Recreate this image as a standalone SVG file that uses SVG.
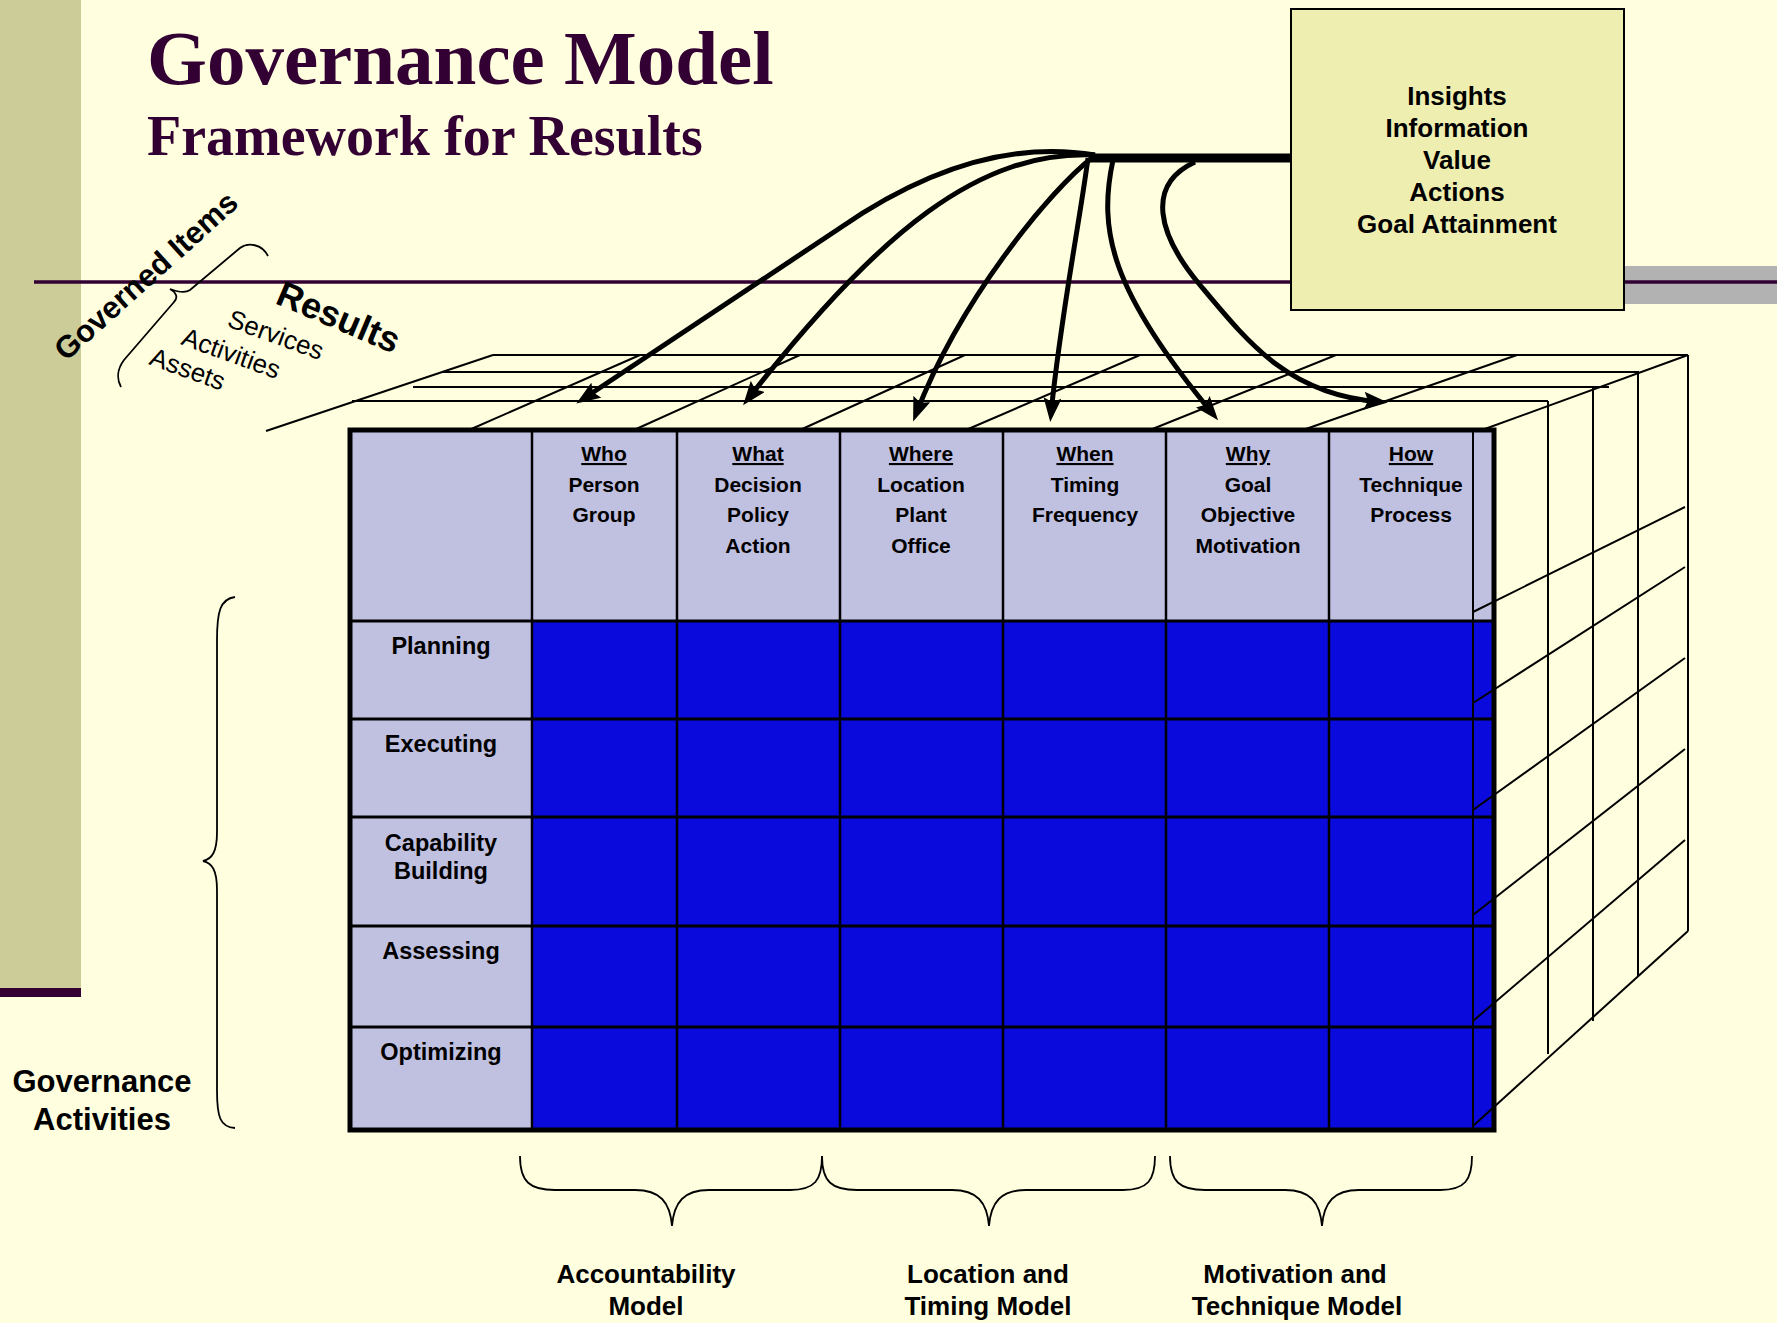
<svg xmlns="http://www.w3.org/2000/svg" width="1777" height="1323" viewBox="0 0 1777 1323">
<defs>
<style>
.title{font-family:"Liberation Serif","Times New Roman",serif;font-weight:bold;fill:#330033}
.b{font-family:"Liberation Sans",Arial,sans-serif;font-weight:bold;fill:#000}
.r{font-family:"Liberation Sans",Arial,sans-serif;fill:#000}
.hd{font-size:21px;text-anchor:middle}
.rl{font-size:23.5px;text-anchor:middle}
.u{text-decoration:underline}
.ln{stroke:#000;stroke-width:2;fill:none}
.grid{stroke:#000;stroke-width:2.5}
.rowl{stroke:#000;stroke-width:3}
.arrow{fill:none;stroke:#000;stroke-width:5;marker-end:url(#ah)}
.brace{fill:none;stroke:#000;stroke-width:1.8}
</style>
<marker id="ah" viewBox="0 0 24 18" refX="16" refY="9" markerWidth="24" markerHeight="18" markerUnits="userSpaceOnUse" orient="auto"><path d="M0,0 L24,9 L0,18 L4,9 z" fill="#000"/></marker>
</defs>

<rect x="0" y="0" width="1777" height="1323" fill="#FFFFE0"/>
<g id="background">
<rect x="0" y="0" width="81" height="988" fill="#CCCC99"/>
<rect x="0" y="988" width="81" height="9" fill="#330033"/>
<rect x="1624" y="266" width="153" height="38" fill="#B2B2B2"/>
<line x1="34" y1="282" x2="1777" y2="282" stroke="#330033" stroke-width="3.5"/>
</g>

<g id="title">
<text class="title" x="147" y="84" font-size="77">Governance Model</text>
<text class="title" x="147" y="155" font-size="56">Framework for Results</text>
</g>

<g id="results-box">
<rect x="1291" y="9" width="333" height="301" fill="#EEEEB0" stroke="#000" stroke-width="2"/>
<text class="b" font-size="26" text-anchor="middle" x="1457" y="105">Insights</text>
<text class="b" font-size="26" text-anchor="middle" x="1457" y="137">Information</text>
<text class="b" font-size="26" text-anchor="middle" x="1457" y="169">Value</text>
<text class="b" font-size="26" text-anchor="middle" x="1457" y="201">Actions</text>
<text class="b" font-size="26" text-anchor="middle" x="1457" y="233">Goal Attainment</text>
</g>

<g id="top-face">
<line class="ln" x1="493" y1="355" x2="1688" y2="355"/>
<line class="ln" x1="442" y1="372" x2="1639" y2="372"/>
<line class="ln" x1="413" y1="387" x2="1609" y2="387"/>
<line class="ln" x1="352" y1="401" x2="1548" y2="401"/>
<line class="ln" x1="266" y1="431" x2="493" y2="355"/>
<line class="ln" x1="469" y1="430" x2="640" y2="355"/>
<line class="ln" x1="634" y1="430" x2="800" y2="355"/>
<line class="ln" x1="800" y1="430" x2="965" y2="355"/>
<line class="ln" x1="966" y1="430" x2="1140" y2="355"/>
<line class="ln" x1="1150" y1="430" x2="1336" y2="355"/>
<line class="ln" x1="1303" y1="430" x2="1517" y2="355"/>
<line class="ln" x1="1482" y1="430" x2="1688" y2="355"/>
</g>

<g id="matrix">
<rect x="350" y="430" width="1144" height="700" fill="#C0C0E0"/>
<rect x="532" y="621" width="962" height="509" fill="#0A0ADC"/>
<line class="grid" x1="532" y1="430" x2="532" y2="1130"/>
<line class="grid" x1="677" y1="430" x2="677" y2="1130"/>
<line class="grid" x1="840" y1="430" x2="840" y2="1130"/>
<line class="grid" x1="1003" y1="430" x2="1003" y2="1130"/>
<line class="grid" x1="1166" y1="430" x2="1166" y2="1130"/>
<line class="grid" x1="1329" y1="430" x2="1329" y2="1130"/>
<line class="ln" x1="1473" y1="430" x2="1473" y2="1130"/>
<line class="rowl" x1="350" y1="621" x2="1494" y2="621"/>
<line class="rowl" x1="350" y1="719" x2="1494" y2="719"/>
<line class="rowl" x1="350" y1="817" x2="1494" y2="817"/>
<line class="rowl" x1="350" y1="926" x2="1494" y2="926"/>
<line class="rowl" x1="350" y1="1027" x2="1494" y2="1027"/>
<rect x="350" y="430" width="1144" height="700" fill="none" stroke="#000" stroke-width="5"/>
</g>

<g id="col-who" class="b hd">
<text x="604" y="461" class="u">Who</text><text x="604" y="492">Person</text><text x="604" y="522">Group</text>
</g>
<g id="col-what" class="b hd">
<text x="758" y="461" class="u">What</text><text x="758" y="492">Decision</text><text x="758" y="522">Policy</text><text x="758" y="553">Action</text>
</g>
<g id="col-where" class="b hd">
<text x="921" y="461" class="u">Where</text><text x="921" y="492">Location</text><text x="921" y="522">Plant</text><text x="921" y="553">Office</text>
</g>
<g id="col-when" class="b hd">
<text x="1085" y="461" class="u">When</text><text x="1085" y="492">Timing</text><text x="1085" y="522">Frequency</text>
</g>
<g id="col-why" class="b hd">
<text x="1248" y="461" class="u">Why</text><text x="1248" y="492">Goal</text><text x="1248" y="522">Objective</text><text x="1248" y="553">Motivation</text>
</g>
<g id="col-how" class="b hd">
<text x="1411" y="461" class="u">How</text><text x="1411" y="492">Technique</text><text x="1411" y="522">Process</text>
</g>

<g id="row-planning" class="b rl"><text x="441" y="654">Planning</text></g>
<g id="row-executing" class="b rl"><text x="441" y="752">Executing</text></g>
<g id="row-capability" class="b rl"><text x="441" y="851">Capability</text><text x="441" y="879">Building</text></g>
<g id="row-assessing" class="b rl"><text x="441" y="959">Assessing</text></g>
<g id="row-optimizing" class="b rl"><text x="441" y="1060">Optimizing</text></g>

<g id="right-face">
<line class="ln" x1="1473" y1="612" x2="1685" y2="507"/>
<line class="ln" x1="1473" y1="703" x2="1685" y2="567"/>
<line class="ln" x1="1473" y1="810" x2="1685" y2="658"/>
<line class="ln" x1="1473" y1="915" x2="1685" y2="749"/>
<line class="ln" x1="1473" y1="1021" x2="1685" y2="840"/>
<line class="ln" x1="1473" y1="1126" x2="1688" y2="931"/>
<line class="ln" x1="1548" y1="401" x2="1548" y2="1054"/>
<line class="ln" x1="1593" y1="387" x2="1593" y2="1021"/>
<line class="ln" x1="1638" y1="372" x2="1638" y2="976"/>
<line class="ln" x1="1688" y1="355" x2="1688" y2="931"/>
</g>

<g id="connectors">
<line x1="1090" y1="158" x2="1291" y2="158" stroke="#000" stroke-width="9"/>
<path class="arrow" d="M1095,155 Q975,135 840,228 L583,399"/>
<path class="arrow" d="M1095,155 C980,150 880,230 748,399"/>
<path class="arrow" d="M1093,157 C1050,190 960,300 916,414"/>
<path class="arrow" d="M1088,158 C1080,220 1060,320 1051,414"/>
<path class="arrow" d="M1113,160 C1098,230 1110,290 1213,414"/>
<path class="arrow" d="M1195,162 C1145,185 1158,235 1200,285 C1250,345 1290,395 1380,402"/>
</g>

<g id="governed-items">
<text class="b" font-size="31" transform="translate(66,362) rotate(-42)">Governed Items</text>
<path class="brace" d="M268,256 C262,244 248,242 240,248 L190,290 C186,293 178,292 170,289 C177,293 178,298 174,302 L124,360 C118,368 116,378 121,387"/>
</g>
<g id="results-axis">
<text class="b" font-size="36" transform="translate(274,303) rotate(23)">Results</text>
<text class="r" font-size="26" transform="translate(226,326) rotate(20)">Services</text>
<text class="r" font-size="26" transform="translate(180,344) rotate(20)">Activities</text>
<text class="r" font-size="26" transform="translate(148,364) rotate(20)">Assets</text>
</g>

<g id="governance-activities">
<path class="brace" d="M235,597 C220,599 217,612 217,640 L217,832 C217,852 212,859 203,861 C212,863 217,870 217,890 L217,1090 C217,1117 220,1127 235,1128"/>
<text class="b" font-size="31" text-anchor="middle" x="102" y="1092">Governance</text>
<text class="b" font-size="31" text-anchor="middle" x="102" y="1130">Activities</text>
</g>

<g id="accountability-model">
<path class="brace" d="M520,1156 C520,1182 530,1190 555,1190 L635,1190 C660,1190 670,1202 672,1226 C674,1202 684,1190 709,1190 L790,1190 C815,1190 822,1180 822,1156"/>
<text class="b" font-size="26" text-anchor="middle" x="646" y="1283">Accountability</text>
<text class="b" font-size="26" text-anchor="middle" x="646" y="1315">Model</text>
</g>
<g id="location-timing-model">
<path class="brace" d="M822,1156 C822,1182 832,1190 857,1190 L952,1190 C977,1190 987,1202 989,1226 C991,1202 1001,1190 1026,1190 L1123,1190 C1148,1190 1155,1180 1155,1156"/>
<text class="b" font-size="26" text-anchor="middle" x="988" y="1283">Location and</text>
<text class="b" font-size="26" text-anchor="middle" x="988" y="1315">Timing Model</text>
</g>
<g id="motivation-technique-model">
<path class="brace" d="M1170,1156 C1170,1182 1180,1190 1205,1190 L1285,1190 C1310,1190 1320,1202 1322,1226 C1324,1202 1334,1190 1359,1190 L1440,1190 C1465,1190 1472,1180 1472,1156"/>
<text class="b" font-size="26" text-anchor="middle" x="1295" y="1283">Motivation and</text>
<text class="b" font-size="26" text-anchor="middle" x="1297" y="1315">Technique Model</text>
</g>
</svg>
